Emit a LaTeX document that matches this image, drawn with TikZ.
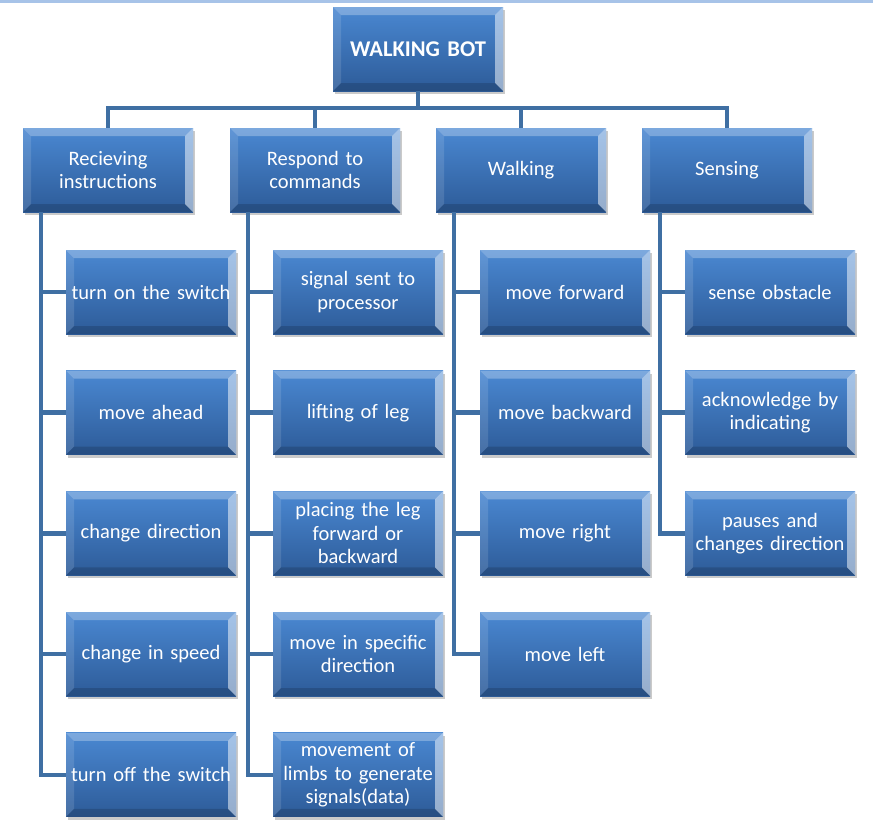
\documentclass[tikz,border=0pt]{standalone}
\usepackage{fontspec}
\setmainfont{Carlito}
\usepackage{tikz}
\usetikzlibrary{
  calc,     % Coordinate math
  shadows   % Soft shadow under the boxes
}
\definecolor{boxtop}{HTML}{4A88D2}
\definecolor{boxbot}{HTML}{2D5B98}
\definecolor{linkblue}{HTML}{3F6FA3}
\definecolor{rimblue}{HTML}{A7C3E8}
\newcommand{\botfont}{\fontsize{20.5}{23.5}\selectfont}

\tikzset{
  botbox/.style={rectangle, minimum width=170pt, minimum height=84pt,
    inner sep=1pt, text width=168pt, align=center, text=white, font=\botfont,
    top color=boxtop, bottom color=boxbot, draw=none,
    drop shadow={shadow xshift=2pt, shadow yshift=-3pt, opacity=0.35, fill=black!60},
    path picture={
      % bevel: top, right, left, bottom
      \fill[white, opacity=0.28] (path picture bounding box.north west) -- (path picture bounding box.north east)
        -- ([shift={(-8pt,-8pt)}]path picture bounding box.north east) -- ([shift={(8pt,-8pt)}]path picture bounding box.north west) -- cycle;
      \fill[white, opacity=0.5] (path picture bounding box.north east) -- (path picture bounding box.south east)
        -- ([shift={(-8pt,8pt)}]path picture bounding box.south east) -- ([shift={(-8pt,-8pt)}]path picture bounding box.north east) -- cycle;
      \fill[white, opacity=0.12] (path picture bounding box.north west) -- (path picture bounding box.south west)
        -- ([shift={(8pt,8pt)}]path picture bounding box.south west) -- ([shift={(8pt,-8pt)}]path picture bounding box.north west) -- cycle;
      \fill[black, opacity=0.15] (path picture bounding box.south west) -- (path picture bounding box.south east)
        -- ([shift={(-8pt,8pt)}]path picture bounding box.south east) -- ([shift={(8pt,8pt)}]path picture bounding box.south west) -- cycle;
    }},
  link/.style={draw=linkblue, line width=4.5pt}
}

\begin{document}
\begin{tikzpicture}[x=1pt, y=-1pt]
  \useasboundingbox (0,0) rectangle (873,830);

  % Thin rim along the top edge
  \fill[rimblue] (0,0) rectangle (873,2.5);

  % Root box
  \node[botbox, font=\fontsize{22.5}{26}\selectfont\bfseries] (bot) at (418,49) {WALKING BOT};

  % Main branches
  \node[botbox] (recv)  at (108,170) {Recieving\\instructions};
  \node[botbox] (resp)  at (315,170) {Respond to\\commands};
  \node[botbox] (walk)  at (521,170) {Walking};
  \node[botbox] (sense) at (727,170) {Sensing};

  % Root to branches, via the bus line
  \foreach \b in {recv,resp,walk,sense}
    \draw[link] (bot.south) -- ++(0,17) -| (\b.north);

  % Leaves under each branch
  \foreach \t [count=\i] in {turn on the switch, move ahead, change direction,
      change in speed, turn off the switch}
    \node[botbox] (recv\i) at (151, 292+120.7*\i-120.7) {\t};
  \foreach \t [count=\i] in {signal sent to\\processor, lifting of leg,
      placing the leg\\forward or\\backward, move in specific\\direction,
      movement of\\limbs to generate\\signals(data)}
    \node[botbox] (resp\i) at (358, 292+120.7*\i-120.7) {\t};
  \foreach \t [count=\i] in {move forward, move backward, move right, move left}
    \node[botbox] (walk\i) at (565, 292+120.7*\i-120.7) {\t};
  \foreach \t [count=\i] in {sense obstacle, acknowledge by\\indicating,
      pauses and\\changes direction}
    \node[botbox] (sense\i) at (770, 292+120.7*\i-120.7) {\t};

  % Branch to leaf connectors
  \foreach \i in {1,...,5} \draw[link] ([xshift=18pt]recv.south west) |- (recv\i.west);
  \foreach \i in {1,...,5} \draw[link] ([xshift=18pt]resp.south west) |- (resp\i.west);
  \foreach \i in {1,...,4} \draw[link] ([xshift=18pt]walk.south west) |- (walk\i.west);
  \foreach \i in {1,...,3} \draw[link] ([xshift=18pt]sense.south west) |- (sense\i.west);
\end{tikzpicture}
\end{document}
